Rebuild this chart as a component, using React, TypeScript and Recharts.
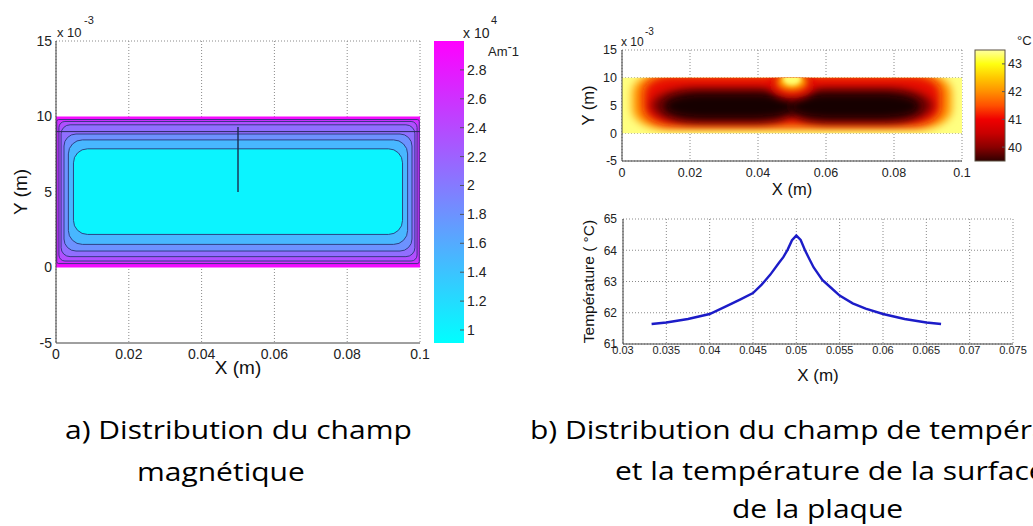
import React from 'react';
import {
  ComposedChart, LineChart, Line, XAxis, YAxis, CartesianGrid,
  ReferenceArea, ReferenceLine,
} from 'recharts';

// ---------------- (a) magnetic field map ----------------
const magXTicks = [0, 0.02, 0.04, 0.06, 0.08, 0.1];
const magYTicks = [-5, 0, 5, 10, 15]; // x 10^-3 m
// contour bands, outermost first: field value (x10^4 A/m) and band extents (x in m, y in 10^-3 m)
const magLevel = [2.9, 2.6, 2.35, 2.1, 1.8, 1.5, 1.0];
const magX1 = [0, 0.0002, 0.0008, 0.0014, 0.0022, 0.0034, 0.0048];
const magX2 = [0.1, 0.0998, 0.0992, 0.0986, 0.0978, 0.0966, 0.0952];
const magY1 = [0, 0.26, 0.43, 0.72, 1.09, 1.53, 2.19];
const magY2 = [10, 9.8, 9.67, 9.45, 8.84, 8.45, 7.86];
const magBarTicks = [1, 1.2, 1.4, 1.6, 1.8, 2, 2.2, 2.4, 2.6, 2.8];
const magBarDomain = [0.91, 3.0];
const magLineY = 9; // straight contour across the plate
const magStemX = 0.05;
const magStemY = [5, 9.3];

// ---------------- (b) temperature map ----------------
const heatXTicks = [0, 0.02, 0.04, 0.06, 0.08, 0.1];
const heatYTicks = [-5, 0, 5, 10, 15];
const heatBarTicks = [40, 41, 42, 43];
const heatBarDomain = [39.5, 43.5];
// layered regions and extents
const heatX1 = [0, 0.003, 0.0062, 0.0085, 0.048, 0.012, 0.049, 0.0435, 0.0455, 0.0472];
const heatX2 = [0.1, 0.097, 0.0938, 0.052, 0.0915, 0.051, 0.088, 0.0565, 0.0545, 0.0528];
const heatY1 = [0, 0.8, 1.4, 1.9, 1.9, 2.5, 2.5, 6.3, 7.6, 8.6];
const heatY2 = [10, 10.9, 10.5, 8.1, 8.1, 7.3, 7.3, 11, 11, 11];
const hotStopT = [39.5, 40, 40.5, 41, 41.5, 42, 42.5, 43, 43.5];
const hotStopColor = ['#300000', '#8a0000', '#c80000', '#f00000', '#ff5000', '#ff9000', '#ffc800', '#ffff10', '#ffffa0'];

// ---------------- (b) surface temperature profile ----------------
const profX = [0.0333, 0.035, 0.0375, 0.04, 0.042, 0.0435, 0.045, 0.046, 0.047, 0.048, 0.0485, 0.049, 0.0495, 0.05,
  0.0505, 0.051, 0.0515, 0.052, 0.053, 0.054, 0.055, 0.0565, 0.058, 0.06, 0.0625, 0.065, 0.0667];
const profT = [61.64, 61.69, 61.8, 61.96, 62.22, 62.42, 62.63, 62.9, 63.22, 63.6, 63.78, 64.02, 64.32, 64.47,
  64.33, 64.0, 63.72, 63.45, 63.05, 62.8, 62.55, 62.3, 62.13, 61.96, 61.8, 61.69, 61.64];
const profXTicks = [0.03, 0.035, 0.04, 0.045, 0.05, 0.055, 0.06, 0.065, 0.07, 0.075];
const profYTicks = [61, 62, 63, 64, 65];

// ---------------- styles ----------------
const FONT = '"Liberation Sans", Arial, sans-serif';
const CAP_FONT = '"Open Sans", "Noto Sans", sans-serif';
const GRID = '#8a8a8a';
const AXIS = '#404040';
const magRadius = [0, 2, 6, 9, 12, 14, 14];
const heatFill = ['#ffff80', '#ff9400', '#e81000', '#7a0000', '#7a0000', '#140000', '#140000', '#e01000', '#ff9a00', '#ffff70'];
const heatBlur = [0, 4, 5, 4, 4, 5, 5, 4, 3, 2];
const heatRx = [0, 0.1, 0.1, 0.3, 0.3, 0.3, 0.3, 0.5, 0.5, 0.5];
const heatRy = [0, 0.35, 0.35, 0.5, 0.5, 0.5, 0.5, 0.5, 0.5, 0.5];

function coolColor(v: number) {
  const t = Math.max(0, Math.min(1, (v - magBarDomain[0]) / (magBarDomain[1] - magBarDomain[0])));
  return `rgb(${Math.round(255 * t)},${Math.round(255 * (1 - t))},255)`;
}

const roundRect = (fill: string, r: number, stroke: string) => (p: any) => (
  <rect x={p.x} y={p.y} width={p.width} height={p.height} rx={r} ry={r} fill={fill}
    stroke={stroke} strokeWidth={0.9} />
);

const barRect = (fill: string, stroke: string) => (p: any) => (
  <rect x={p.x} y={p.y} width={p.width} height={p.height} fill={fill} stroke={stroke} strokeWidth={1} />
);

const heatShape = (i: number) => (p: any) => {
  if (i === 0) {
    return (
      <g>
        <defs>
          <clipPath id="heatClip">
            <rect x={p.x} y={p.y} width={p.width} height={p.height} />
          </clipPath>
        </defs>
        <rect x={p.x} y={p.y} width={p.width} height={p.height} fill={heatFill[0]} />
      </g>
    );
  }
  return (
    <rect x={p.x} y={p.y} width={p.width} height={p.height}
      rx={p.width * heatRx[i]} ry={p.height * heatRy[i]} fill={heatFill[i]}
      filter={`url(#blur${heatBlur[i]})`} clipPath="url(#heatClip)" />
  );
};

const profData = profX.map((x, i) => ({ x, t: profT[i] }));

export default function App() {
  return (
    <div style={{ position: 'fixed', left: 0, top: 0, width: 1033, height: 526, overflow: 'hidden', background: '#fff', fontFamily: FONT }}>
      <svg width={0} height={0} style={{ position: 'absolute' }}>
        <defs>
          {[2, 3, 4, 5, 6].map((s) => (
            <filter key={s} id={`blur${s}`} x="-60%" y="-60%" width="220%" height="220%">
              <feGaussianBlur stdDeviation={s} />
            </filter>
          ))}
          <linearGradient id="coolGrad" x1="0" y1="1" x2="0" y2="0">
            <stop offset="0" stopColor="rgb(0,255,255)" />
            <stop offset="1" stopColor="rgb(255,0,255)" />
          </linearGradient>
          <linearGradient id="hotGrad" x1="0" y1="1" x2="0" y2="0">
            {hotStopT.map((t, i) => (
              <stop key={i} offset={(t - heatBarDomain[0]) / (heatBarDomain[1] - heatBarDomain[0])} stopColor={hotStopColor[i]} />
            ))}
          </linearGradient>
        </defs>
      </svg>

      {/* (a) magnetic field */}
      <div style={{ position: 'absolute', left: 0, top: 0 }}>
        <ComposedChart width={440} height={400} margin={{ top: 41, right: 20, bottom: 27, left: 16 }}>
          <CartesianGrid horizontal={false} stroke={GRID} strokeDasharray="1 2" />
          <XAxis type="number" dataKey="x" domain={[0, 0.1]} ticks={magXTicks} interval={0} height={30}
            tickLine={false} tickSize={0} tickMargin={6} axisLine={{ stroke: AXIS }} allowDataOverflow
            tick={{ fontSize: 14, fill: '#222' }}
            label={{ value: 'X (m)', position: 'insideBottom', offset: -1, style: { fontSize: 19, fill: '#111' } }} />
          <YAxis type="number" dataKey="y" domain={[-5, 15]} ticks={magYTicks} interval={0} width={40}
            tickLine={false} tickSize={0} tickMargin={4} axisLine={{ stroke: AXIS }} allowDataOverflow
            tick={{ fontSize: 14, fill: '#222' }}
            label={{ value: 'Y (m)', angle: -90, position: 'insideLeft', offset: 4, style: { fontSize: 19, fill: '#111', textAnchor: 'middle' } }} />
          <ReferenceLine y={15} stroke={GRID} strokeDasharray="1 2" />
          {magLevel.map((v, i) => (
            <ReferenceArea key={i} x1={magX1[i]} x2={magX2[i]} y1={magY1[i]} y2={magY2[i]} ifOverflow="visible"
              shape={roundRect(coolColor(v), magRadius[i], i === 0 ? 'none' : '#2a3478')} />
          ))}
          <ReferenceLine segment={[{ x: magX1[0], y: magLineY }, { x: magX2[0], y: magLineY }]} stroke="#2a2a60" strokeWidth={1} ifOverflow="visible" />
          <ReferenceLine segment={[{ x: magStemX, y: magStemY[0] }, { x: magStemX, y: magStemY[1] }]} stroke="#1c2a50" strokeWidth={1.4} ifOverflow="visible" />
        </ComposedChart>
      </div>
      {/* (a) colour bar */}
      <div style={{ position: 'absolute', left: 420, top: 0 }}>
        <ComposedChart width={110} height={400} margin={{ top: 41, right: 20, bottom: 57, left: 14 }}>
          <XAxis type="number" dataKey="x" domain={[0, 1]} hide allowDataOverflow />
          <YAxis type="number" orientation="right" domain={magBarDomain} ticks={magBarTicks} interval={0} width={46}
            axisLine={false} tickSize={-4} tickMargin={7} tickLine={{ stroke: '#555' }} allowDataOverflow
            tick={{ fontSize: 14, fill: '#222' }} />
          <ReferenceArea x1={0} x2={1} y1={magBarDomain[0]} y2={magBarDomain[1]} ifOverflow="visible"
            shape={barRect('url(#coolGrad)', 'none')} />
        </ComposedChart>
      </div>

      {/* (b) temperature map */}
      <div style={{ position: 'absolute', left: 560, top: 0 }}>
        <ComposedChart width={420} height={205} margin={{ top: 50, right: 18, bottom: 14, left: 22 }}>
          <CartesianGrid stroke={GRID} strokeDasharray="1 2" />
          <XAxis type="number" dataKey="x" domain={[0, 0.1]} ticks={heatXTicks} interval={0} height={30}
            tickLine={false} tickSize={0} tickMargin={7} axisLine={{ stroke: AXIS }} allowDataOverflow
            tick={{ fontSize: 12.5, fill: '#222' }}
            label={{ value: 'X (m)', position: 'insideBottom', offset: -4, style: { fontSize: 16.5, fill: '#111' } }} />
          <YAxis type="number" dataKey="y" domain={[-5, 15]} ticks={heatYTicks} interval={0} width={40}
            tickLine={false} tickSize={0} tickMargin={5} axisLine={{ stroke: AXIS }} allowDataOverflow
            tick={{ fontSize: 12.5, fill: '#222' }}
            label={{ value: 'Y (m)', angle: -90, position: 'insideLeft', offset: 6, style: { fontSize: 16.5, fill: '#111', textAnchor: 'middle' } }} />
          {heatX1.map((x1, i) => (
            <ReferenceArea key={i} x1={x1} x2={heatX2[i]} y1={heatY1[i]} y2={heatY2[i]} ifOverflow="visible" shape={heatShape(i)} />
          ))}
        </ComposedChart>
      </div>
      {/* (b) colour bar */}
      <div style={{ position: 'absolute', left: 960, top: 0 }}>
        <ComposedChart width={73} height={205} margin={{ top: 50, right: 0, bottom: 44, left: 15 }}>
          <XAxis type="number" dataKey="x" domain={[0, 1]} hide allowDataOverflow />
          <YAxis type="number" orientation="right" domain={heatBarDomain} ticks={heatBarTicks} interval={0} width={28}
            axisLine={false} tickSize={-3} tickMargin={6} tickLine={{ stroke: '#555' }} allowDataOverflow
            tick={{ fontSize: 12.5, fill: '#222' }} />
          <ReferenceArea x1={0} x2={1} y1={heatBarDomain[0]} y2={heatBarDomain[1]} ifOverflow="visible"
            shape={barRect('url(#hotGrad)', '#5a5040')} />
        </ComposedChart>
      </div>

      {/* (b) surface temperature profile */}
      <div style={{ position: 'absolute', left: 560, top: 195 }}>
        <LineChart width={473} height={200} data={profData} margin={{ top: 24, right: 20, bottom: 21, left: 23 }}>
          <CartesianGrid stroke={GRID} strokeDasharray="1 2" />
          <XAxis type="number" dataKey="x" domain={[0.03, 0.075]} ticks={profXTicks} interval={0} height={30}
            tickLine={false} tickSize={0} tickMargin={2} axisLine={{ stroke: AXIS }} allowDataOverflow
            tick={{ fontSize: 11, fill: '#222' }}
            label={{ value: 'X (m)', position: 'insideBottom', offset: -7, style: { fontSize: 17, fill: '#111' } }} />
          <YAxis type="number" domain={[61, 65]} ticks={profYTicks} interval={0} width={40}
            tickLine={false} tickSize={0} tickMargin={6} axisLine={{ stroke: AXIS }} allowDataOverflow
            tick={{ fontSize: 12, fill: '#222' }}
            label={{ value: 'Température ( °C)', angle: -90, position: 'insideLeft', offset: 5, style: { fontSize: 15.5, fill: '#111', textAnchor: 'middle' } }} />
          <Line type="linear" dataKey="t" stroke="#1c1cc8" strokeWidth={2.4} dot={false} isAnimationActive={false} />
        </LineChart>
      </div>

      {/* annotations & captions */}
      <svg width={1033} height={526} style={{ position: 'absolute', left: 0, top: 0, pointerEvents: 'none' }}>
        <g fontFamily={FONT} fill="#222">
          <text x={57} y={37} fontSize={13}>x 10</text>
          <text x={84} y={24} fontSize={11}>-3</text>
          <text x={463} y={38} fontSize={14}>x 10</text>
          <text x={491} y={24} fontSize={11}>4</text>
          <text x={488} y={56} fontSize={13}>Am<tspan dy={-5}>-</tspan><tspan dy={5}>1</tspan></text>
          <text x={621} y={46} fontSize={12}>x 10</text>
          <text x={645} y={35} fontSize={10}>-3</text>
          <text x={1017} y={45} fontSize={13}>°C</text>
        </g>
        <g fontFamily={CAP_FONT} fill="#000" fontSize={25}>
          <text transform="translate(65,439) scale(1.2,1)">a) Distribution du champ</text>
          <text transform="translate(137,481) scale(1.2,1)">magnétique</text>
          <text transform="translate(530,439) scale(1.2,1)">b) Distribution du champ de température</text>
          <text transform="translate(615,480) scale(1.2,1)">et la température de la surface</text>
          <text transform="translate(732,518) scale(1.2,1)">de la plaque</text>
        </g>
      </svg>
    </div>
  );
}
